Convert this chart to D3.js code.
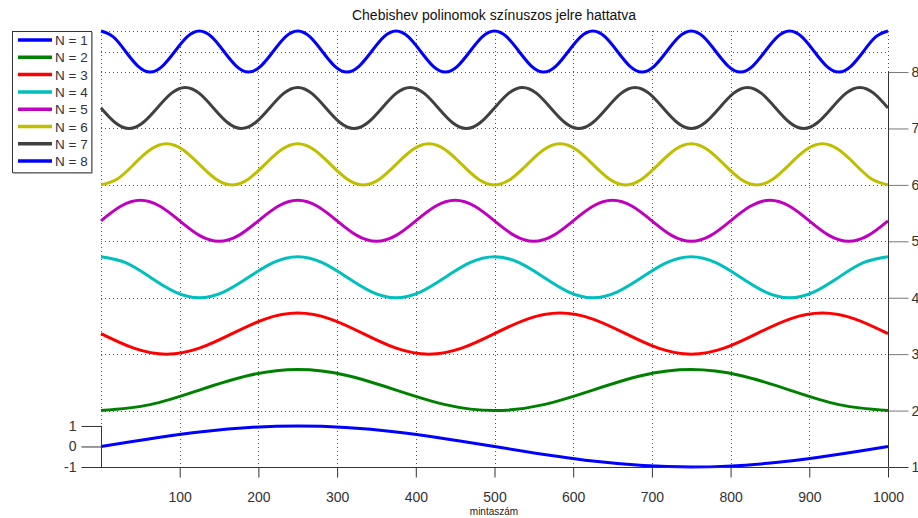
<!DOCTYPE html>
<html>
<head>
<meta charset="utf-8">
<script src="https://cdn.jsdelivr.net/npm/d3@7"></script>
<style>
  html, body { margin: 0; padding: 0; background: #fff; }
  svg { display: block; font-family: "Liberation Sans", Arial, sans-serif; }
</style>
</head>
<body>
<svg id="chart" width="918" height="518"></svg>
<script>
// Chebyshev polynomials T_N applied to one period of a sine (1000 samples).
// Each series: values sampled every 1/8 period, from sample 0 to sample 1000.
const series1 = [0,.71,1,.71,0,-.71,-1,-.71,0];
const series2 = [-1,-.71,0,.71,1,.71,0,-.71, -1,-.71,0,.71,1,.71,0,-.71, -1];
const series3 = [0,-.71,-1,-.71,0,.71,1,.71, 0,-.71,-1,-.71,0,.71,1,.71, 0,-.71,-1,-.71,0,.71,1,.71, 0];
const series4 = [1,.71,0,-.71,-1,-.71,0,.71, 1,.71,0,-.71,-1,-.71,0,.71, 1,.71,0,-.71,-1,-.71,0,.71, 1,.71,0,-.71,-1,-.71,0,.71, 1];
const series5 = [0,.71,1,.71,0,-.71,-1,-.71, 0,.71,1,.71,0,-.71,-1,-.71, 0,.71,1,.71,0,-.71,-1,-.71, 0,.71,1,.71,0,-.71,-1,-.71, 0,.71,1,.71,0,-.71,-1,-.71, 0];
const series6 = [-1,-.71,0,.71,1,.71,0,-.71, -1,-.71,0,.71,1,.71,0,-.71, -1,-.71,0,.71,1,.71,0,-.71, -1,-.71,0,.71,1,.71,0,-.71, -1,-.71,0,.71,1,.71,0,-.71, -1,-.71,0,.71,1,.71,0,-.71, -1];
const series7 = [0,-.71,-1,-.71,0,.71,1,.71, 0,-.71,-1,-.71,0,.71,1,.71, 0,-.71,-1,-.71,0,.71,1,.71, 0,-.71,-1,-.71,0,.71,1,.71, 0,-.71,-1,-.71,0,.71,1,.71, 0,-.71,-1,-.71,0,.71,1,.71, 0,-.71,-1,-.71,0,.71,1,.71, 0];
const series8 = [1,.71,0,-.71,-1,-.71,0,.71, 1,.71,0,-.71,-1,-.71,0,.71, 1,.71,0,-.71,-1,-.71,0,.71, 1,.71,0,-.71,-1,-.71,0,.71, 1,.71,0,-.71,-1,-.71,0,.71, 1,.71,0,-.71,-1,-.71,0,.71, 1,.71,0,-.71,-1,-.71,0,.71, 1,.71,0,-.71,-1,-.71,0,.71, 1];

const seriesValues = [series1, series2, series3, series4, series5, series6, series7, series8];
const seriesNames = ["N = 1","N = 2","N = 3","N = 4","N = 5","N = 6","N = 7","N = 8"];
const seriesColors = ["#0000ff","#008000","#ff0000","#00bfbf","#bf00bf","#bfbf00","#404040","#0000ff"];
// vertical shift between stacked curves
const seriesOffsets = [0, 2.75, 5.5, 8.25, 11, 13.75, 16.5, 19.25];

const sampleCount = 1000;
const xTicks = [100,200,300,400,500,600,700,800,900,1000];
const leftTicks = [-1, 0, 1];
const leftTickLabels = ["-1", "0", "1"];
const rightTickLabels = ["1","2","3","4","5","6","7","8"];
const extraGrid = [19.25, 20.25];

const title = "Chebishev polinomok színuszos jelre hattatva";
const xLabel = "mintaszám";

const svg = d3.select("#chart");
const x = d3.scaleLinear().domain([0, sampleCount]).range([101, 888]);
const y = d3.scaleLinear().domain([-1, 20.25]).range([467, 31]);
const rightTickVals = seriesOffsets.map(o => o - 1);

// grid
const grid = svg.append("g").attr("stroke", "#555").attr("stroke-width", 1)
  .attr("stroke-dasharray", "1,3").attr("fill", "none");
[0].concat(xTicks).forEach(t => {
  const px = Math.round(x(t)) + 0.5;
  const yBottom = t === 0 ? y(1) : (t === sampleCount ? y(rightTickVals[7]) : y(-1));
  grid.append("line").attr("x1", px).attr("x2", px).attr("y1", y(20.25)).attr("y2", yBottom);
});
rightTickVals.slice(1).concat(extraGrid).forEach(v => {
  const py = Math.round(y(v)) + 0.5;
  grid.append("line").attr("x1", x(0)).attr("x2", x(sampleCount)).attr("y1", py).attr("y2", py);
});

// curves
const line = d3.line().curve(d3.curveNatural)
  .x(d => x(d.i)).y(d => y(d.v));
const curves = svg.append("g");
seriesValues.forEach((vals, k) => {
  const step = sampleCount / (vals.length - 1);
  const pts = vals.map((v, i) => ({ i: i * step, v: v + seriesOffsets[k] }));
  curves.append("path").datum(pts)
    .attr("d", line).attr("fill", "none")
    .attr("stroke", seriesColors[k]).attr("stroke-width", 3)
    .attr("stroke-linejoin", "round");
});

// axes
const axisColor = "#333";
const bottom = svg.append("g").attr("transform", `translate(0,${Math.round(y(-1)) + 0.5})`)
  .call(d3.axisBottom(x).tickValues(xTicks).tickSize(10).tickPadding(15).tickFormat(d3.format("d")));
const left = svg.append("g").attr("transform", `translate(${Math.round(x(0)) + 0.5},0)`)
  .call(d3.axisLeft(y).tickValues(leftTicks).tickSize(20).tickPadding(5)
    .tickFormat((d, i) => leftTickLabels[i]));
const right = svg.append("g").attr("transform", `translate(${Math.round(x(sampleCount)) + 0.5},0)`)
  .call(d3.axisRight(y).tickValues(rightTickVals).tickSize(20).tickPadding(3)
    .tickFormat((d, i) => rightTickLabels[i]));
[bottom, left, right].forEach(g => {
  g.select(".domain").remove();
  g.selectAll("line").attr("stroke", axisColor);
  g.selectAll("text").attr("fill", "#333").style("font-size", "14px")
    .style("font-family", "'Liberation Sans', Arial, sans-serif");
});
// axis spines
svg.append("line").attr("stroke", axisColor)
  .attr("x1", x(0)).attr("x2", x(sampleCount))
  .attr("y1", Math.round(y(-1)) + 0.5).attr("y2", Math.round(y(-1)) + 0.5);
svg.append("line").attr("stroke", axisColor)
  .attr("x1", Math.round(x(0)) + 0.5).attr("x2", Math.round(x(0)) + 0.5)
  .attr("y1", y(1)).attr("y2", y(-1));
svg.append("line").attr("stroke", axisColor)
  .attr("x1", Math.round(x(sampleCount)) + 0.5).attr("x2", Math.round(x(sampleCount)) + 0.5)
  .attr("y1", y(rightTickVals[7])).attr("y2", y(-1));
right.selectAll(".tick").filter((d, i) => i > 0).select("line").attr("stroke", "#777");

// title and x label
svg.append("text").attr("x", 494).attr("y", 20).attr("text-anchor", "middle")
  .style("font-size", "14px").attr("fill", "#111").text(title);
svg.append("text").attr("x", 494).attr("y", 515).attr("text-anchor", "middle")
  .style("font-size", "10px").attr("fill", "#222").text(xLabel);

// legend
const legend = svg.append("g");
legend.append("rect").attr("x", 12.5).attr("y", 31.5).attr("width", 79).attr("height", 141)
  .attr("fill", "#fff").attr("stroke", "#333");
legend.append("line").attr("x1", 13).attr("x2", 92).attr("y1", 173).attr("y2", 173)
  .attr("stroke", "#888").attr("stroke-width", 1.5);
legend.append("line").attr("x1", 92).attr("x2", 92).attr("y1", 32).attr("y2", 173.5)
  .attr("stroke", "#888").attr("stroke-width", 1.5);
seriesNames.forEach((name, i) => {
  const ly = 40 + i * 17.3;
  legend.append("line").attr("x1", 18).attr("x2", 52).attr("y1", ly).attr("y2", ly)
    .attr("stroke", seriesColors[i]).attr("stroke-width", 3.5);
  legend.append("text").attr("x", 55).attr("y", ly + 5)
    .style("font-size", "13.5px").attr("fill", "#333").text(name);
});
</script>
</body>
</html>
